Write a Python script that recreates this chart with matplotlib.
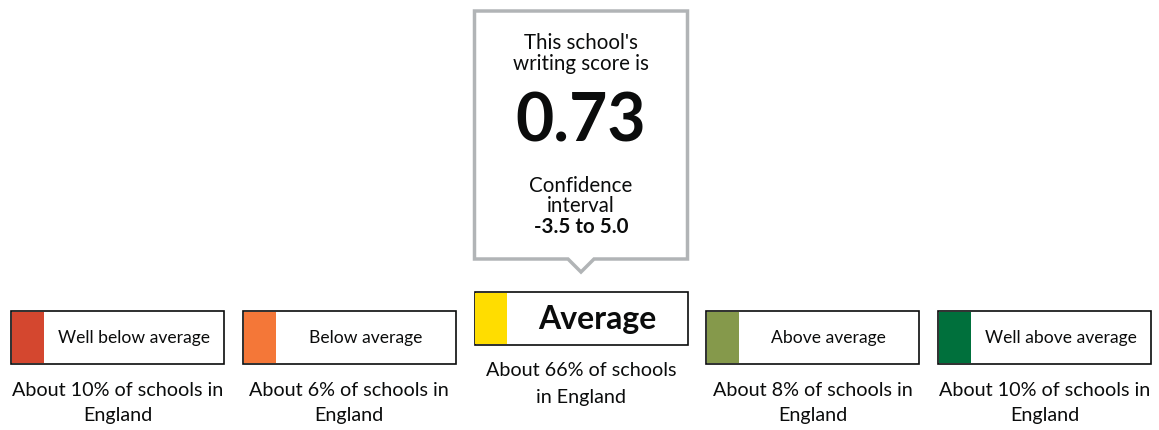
import matplotlib
matplotlib.use("Agg")
import matplotlib.pyplot as plt
from matplotlib.patches import Rectangle, Polygon

plt.rcParams['font.family'] = ['Lato', 'DejaVu Sans']

# Bands shown under the score
categories = ["Well below average", "Below average", "Average", "Above average", "Well above average"]
band_colors = ["#d4472f", "#f47738", "#ffdd00", "#85994b", "#00703c"]
shares = ["About 10% of schools in\nEngland", "About 6% of schools in\nEngland",
          "About 66% of schools\nin England", "About 8% of schools in\nEngland",
          "About 10% of schools in\nEngland"]
current = 2  # the band this school falls in

score = 0.73
ci_low, ci_high = -3.5, 5.0
subject = "writing"

W, H = 1159, 430
fig = plt.figure(figsize=(W / 100, H / 100), dpi=100)
ax = fig.add_axes([0, 0, 1, 1])
ax.set_xlim(0, W)
ax.set_ylim(H, 0)
ax.axis('off')

box_w, box_h, gap = 213, 53, 18.75
strip = 32
for i, (name, col, share) in enumerate(zip(categories, band_colors, shares)):
    x0 = 11 + i * (box_w + gap)
    y0 = 292 if i == current else 311
    ax.add_patch(Rectangle((x0, y0), box_w, box_h, facecolor='white', edgecolor='#0b0c0c', lw=1.2))
    ax.add_patch(Rectangle((x0 + 0.8, y0 + 0.8), strip, box_h - 1.6, facecolor=col, edgecolor='none'))
    tx = x0 + strip + (box_w - strip) / 2
    if i == current:
        ax.text(tx, y0 + box_h / 2 + 1, name, ha='center', va='center', fontsize=23, fontweight='bold', color='#0b0c0c')
    else:
        ax.text(tx, y0 + box_h / 2 + 1, name, ha='center', va='center', fontsize=12.6, color='#0b0c0c')
    line1, line2 = share.split("\n")
    ax.text(x0 + box_w / 2, y0 + box_h + 26, line1, ha='center', va='center', fontsize=14.2, color='#0b0c0c')
    ax.text(x0 + box_w / 2, y0 + box_h + 52, line2, ha='center', va='center', fontsize=14.2, color='#0b0c0c')

# callout with the score
cx0 = 11 + current * (box_w + gap)
cx = cx0 + box_w / 2
top, bot = 11, 259
grey = '#b1b4b6'
outline = [(cx0, bot), (cx0, top), (cx0 + box_w, top), (cx0 + box_w, bot),
           (cx + 13, bot), (cx, bot + 13), (cx - 13, bot)]
ax.add_patch(Polygon(outline, closed=True, facecolor='white', edgecolor=grey, lw=2.5, joinstyle='miter'))

txt = dict(ha='center', va='center', fontsize=14.8, color='#0b0c0c')
ax.text(cx, 43, "This school's", **txt)
ax.text(cx, 64, "%s score is" % subject, **txt)
ax.text(cx, 123, "%.2f" % score, ha='center', va='center', fontsize=47.5, fontweight='bold', color='#0b0c0c')
ax.text(cx, 186, "Confidence", **txt)
ax.text(cx, 206, "interval", **txt)
ax.text(cx, 227, "%.1f to %.1f" % (ci_low, ci_high), fontweight='bold', **txt)

fig.savefig("out.png", dpi=100)
